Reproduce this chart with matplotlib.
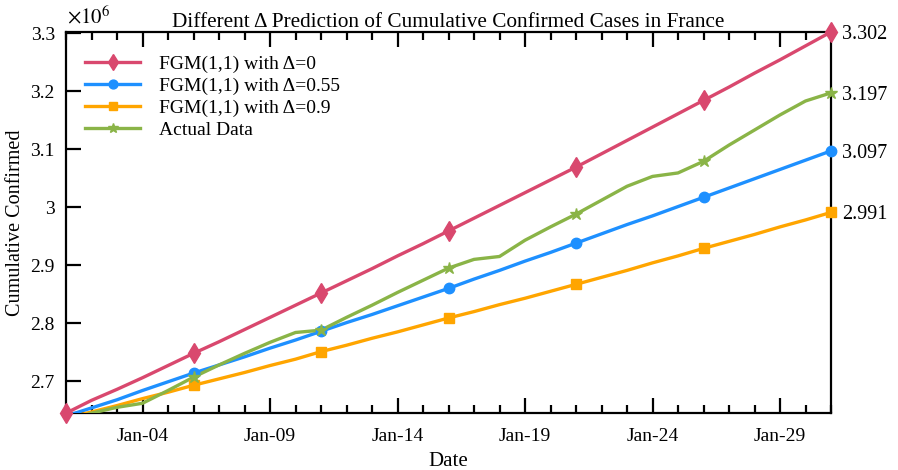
import numpy as np
import matplotlib
matplotlib.use("Agg")
import matplotlib.pyplot as plt
import matplotlib.dates as mdates
from matplotlib.ticker import FuncFormatter, FixedLocator
import datetime as dt

plt.rcParams['font.family'] = ['Liberation Serif', 'DejaVu Serif']
plt.rcParams['mathtext.fontset'] = 'stix'

dates = [dt.datetime(2021, 1, d) for d in range(1, 32)]

fgm_d0 = [2.645, 2.667, 2.686, 2.706, 2.727, 2.748, 2.768, 2.789, 2.810, 2.831,
          2.852, 2.873, 2.894, 2.916, 2.937, 2.959, 2.981, 3.003, 3.025, 3.047,
          3.069, 3.092, 3.115, 3.138, 3.161, 3.184, 3.207, 3.231, 3.254, 3.278, 3.302]
fgm_d055 = [2.640, 2.654, 2.668, 2.684, 2.699, 2.714, 2.728, 2.742, 2.757, 2.771,
            2.786, 2.801, 2.815, 2.830, 2.845, 2.860, 2.876, 2.891, 2.907, 2.922,
            2.938, 2.954, 2.970, 2.985, 3.001, 3.017, 3.033, 3.049, 3.065, 3.081, 3.097]
fgm_d09 = [2.636, 2.647, 2.658, 2.670, 2.681, 2.693, 2.704, 2.715, 2.727, 2.738,
           2.751, 2.762, 2.774, 2.785, 2.797, 2.809, 2.820, 2.832, 2.843, 2.855,
           2.867, 2.879, 2.891, 2.904, 2.916, 2.929, 2.941, 2.953, 2.966, 2.978, 2.991]
actual = [2.632, 2.645, 2.655, 2.662, 2.684, 2.707, 2.728, 2.748, 2.767, 2.784,
          2.788, 2.810, 2.831, 2.853, 2.874, 2.895, 2.910, 2.915, 2.943, 2.966,
          2.988, 3.012, 3.036, 3.053, 3.059, 3.079, 3.107, 3.133, 3.159, 3.183, 3.197]

labels = ['FGM(1,1) with \u0394=0', 'FGM(1,1) with \u0394=0.55',
          'FGM(1,1) with \u0394=0.9', 'Actual Data']
colors = ['#D9486E', '#1E90FF', '#FFA500', '#8AB447']
markers = ['d', 'o', 's', '*']
msizes = [10, 7.5, 6.5, 9]
mark_start = [0, 5, 5, 5]
series = [fgm_d0, fgm_d055, fgm_d09, actual]
yticks = [2.7, 2.8, 2.9, 3.0, 3.1, 3.2, 3.3]

fig = plt.figure(figsize=(8.98, 4.70), dpi=100)
ax = fig.add_axes([0.0735, 0.121, 0.8519, 0.811])

handles = []
for s, c, m, ms, st, lab in zip(series, colors, markers, msizes, mark_start, labels):
    y = np.array(s) * 1e6
    ax.plot(dates, y, color=c, lw=2.4, zorder=3)
    ax.plot(dates[st::5], y[st::5], ls='none', marker=m, ms=ms, color=c,
            mec=c, mew=1.0, clip_on=False, zorder=4)
    h, = ax.plot([], [], color=c, lw=2.4, marker=m, ms=ms * 0.85, mec=c, mew=1.0)
    handles.append(h)

ax.set_xlim(dates[0], dates[-1])
ax.set_ylim(fgm_d0[0] * 1e6, fgm_d0[-1] * 1e6)

ax.xaxis.set_major_locator(mdates.DayLocator(bymonthday=[4, 9, 14, 19, 24, 29]))
ax.xaxis.set_minor_locator(mdates.DayLocator())
ax.xaxis.set_major_formatter(mdates.DateFormatter('%b-%d'))
ax.yaxis.set_major_locator(FixedLocator([v * 1e6 for v in yticks]))
ax.yaxis.set_major_formatter(FuncFormatter(lambda v, p: ('%g' % round(v / 1e6, 3))))

ax.tick_params(axis='both', which='major', direction='in', length=11, width=1.6,
               labelsize=14, top=True, right=True, pad=8)
ax.tick_params(axis='x', which='major', pad=11)
ax.tick_params(axis='x', which='minor', direction='in', length=6, width=1.6,
               top=True)
for sp in ax.spines.values():
    sp.set_linewidth(1.6)

ax2 = ax.twinx()
ax2.set_ylim(ax.get_ylim())
ends = [fgm_d0[-1], actual[-1], fgm_d055[-1], fgm_d09[-1]]
ax2.set_yticks([v * 1e6 for v in ends])
ax2.set_yticklabels(['%.3f' % v for v in ends])
ax2.tick_params(axis='y', length=0, labelsize=14.5, pad=8)
for sp in ax2.spines.values():
    sp.set_visible(False)

ax.text(0.001, 1.01, r'$\times10^{6}$', transform=ax.transAxes, fontsize=15,
        ha='left', va='bottom')
ax.set_title('Different \u0394 Prediction of Cumulative Confirmed Cases in France',
             fontsize=15.3, pad=2)
ax.set_xlabel('Date', fontsize=15, labelpad=5)
ax.set_ylabel('Cumulative Confirmed', fontsize=14.5, labelpad=4)

ax.legend(handles, labels, loc='upper left', bbox_to_anchor=(0.0, 0.99),
          frameon=False, fontsize=14, handlelength=2.8, labelspacing=0.22,
          borderaxespad=0.6, handletextpad=1.0)

fig.savefig('out.png', dpi=100)
